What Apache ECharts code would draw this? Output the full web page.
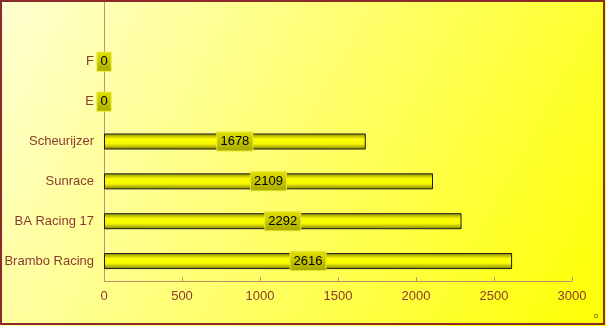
<!DOCTYPE html>
<html><head><meta charset="utf-8">
<script src="https://cdn.jsdelivr.net/npm/echarts@6/dist/echarts.min.js"></script>
<style>html,body{margin:0;padding:0;}#c{width:606px;height:326px;}</style>
</head><body><div id="c"></div>
<script>
const categories = ['', 'F', 'E', 'Scheurijzer', 'Sunrace', 'BA Racing 17', 'Brambo Racing'];
const values = [null, 0, 0, 1678, 2109, 2292, 2616];
const xTicks = [0, 500, 1000, 1500, 2000, 2500, 3000];

const chart = echarts.init(document.getElementById('c'));
const txt = '#8b3a2e';
chart.setOption({
  animation: false,
  backgroundColor: new echarts.graphic.LinearGradient(0, 0, 1, 1, [
    {offset: 0, color: '#ffffd2'}, {offset: 1, color: '#ffff00'}
  ]),
  grid: {left: 104, right: 34, top: 2, bottom: 45, containLabel: false},
  xAxis: {
    type: 'value', min: xTicks[0], max: xTicks[xTicks.length-1], interval: 500,
    axisLine: {show: true, lineStyle: {color: '#c4906a', width: 1}},
    axisTick: {show: true, inside: true, length: 4, lineStyle: {color: '#c4906a'}},
    splitLine: {show: false},
    axisLabel: {color: txt, fontFamily: 'Liberation Sans, Arial', fontSize: 13, margin: 9,
      formatter: v => String(v)}
  },
  yAxis: {
    type: 'category', data: categories.slice().reverse(),
    axisLine: {show: true, lineStyle: {color: '#c4906a', width: 1}},
    axisTick: {show: false},
    axisLabel: {color: txt, fontFamily: 'Liberation Sans, Arial', fontSize: 13, margin: 10}
  },
  series: [{
    type: 'bar',
    data: values.slice().reverse(),
    barWidth: 16,
    itemStyle: {
      color: new echarts.graphic.LinearGradient(0, 0, 0, 1, [
        {offset: 0, color: '#8a8a00'}, {offset: 0.35, color: '#ffff00'},
        {offset: 0.65, color: '#f6f600'}, {offset: 1, color: '#7e7e00'}
      ]),
      borderColor: '#1a1a1a', borderWidth: 1
    },
    label: {
      show: true, position: 'inside', color: '#000',
      fontFamily: 'Liberation Sans, Arial', fontSize: 13,
      backgroundColor: new echarts.graphic.LinearGradient(0, 0, 0, 1, [
        {offset: 0, color: '#e2e200'}, {offset: 1, color: '#a8a800'}
      ]),
      borderColor: '#e6e630', borderWidth: 1,
      padding: [3, 3, 2, 3]
    }
  }],
  graphic: [
    {type: 'rect', shape: {x: 1, y: 1, width: 603, height: 323}, style: {fill: 'none', stroke: '#8b2a2a', lineWidth: 2}, z: 100},
    {type: 'text', left: 594, top: 313, style: {text: 'D', fontSize: 6, fill: '#333', fontFamily: 'Liberation Sans'}, z: 100}
  ]
});
</script></body></html>
